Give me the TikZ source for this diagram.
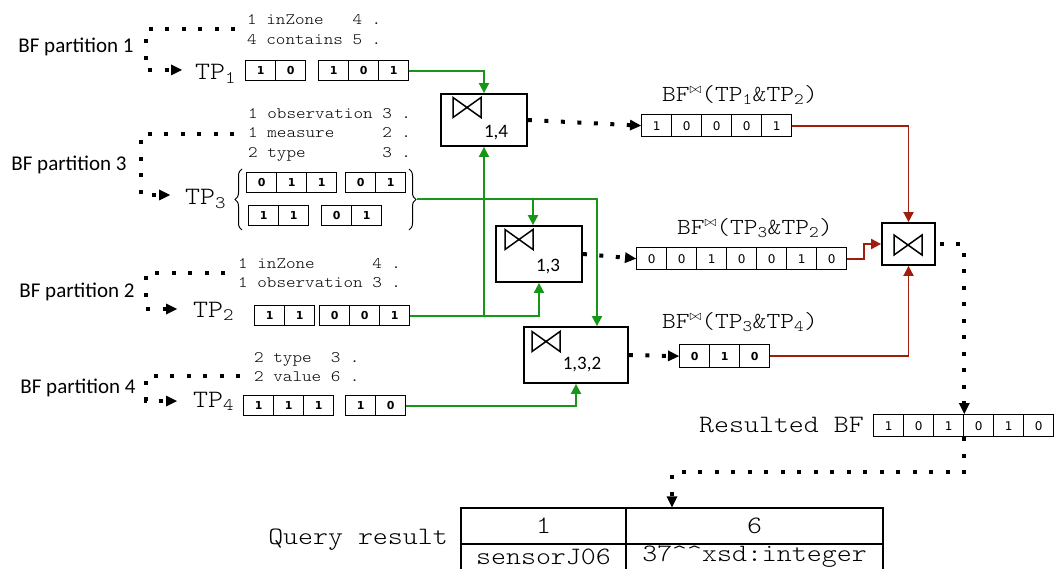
\documentclass[tikz,border=0pt]{standalone}
\usepackage{fontspec}
\setmainfont{Carlito}
\newfontfamily\monofont[FakeStretch=1.14]{Latin Modern Mono Light}
\newfontfamily\cellfont{DejaVu Sans}
\usetikzlibrary{arrows.meta,decorations.pathreplacing}

\definecolor{linkgreen}{RGB}{24,150,24}
\definecolor{linkred}{RGB}{160,28,12}

\newcommand{\bigmono}{\monofont\fontsize{25}{29}\selectfont}

% one group of bit cells, left/top corner at (#2,#3)
\newcommand{\bitgroup}[5]{%
  \foreach \b [count=\i] in {#5}
    \node[#4, anchor=north west] (#1-\i) at ({#2+30*(\i-1)},#3) {\b};
}
% join symbol
\newcommand{\bowsym}[2]{%
  \draw[line width=1.5pt, line join=miter] (#1-14,#2-10) -- (#1+14,#2+10) -- (#1+14,#2-10) -- (#1-14,#2+10) -- cycle;
}

\tikzset{
  part/.style={font=\fontsize{21}{25}\selectfont, inner sep=0pt},
  triple/.style={font=\monofont\fontsize{16}{19.5}\selectfont, align=left, anchor=west, inner sep=0pt},
  tplab/.style={font=\bigmono, anchor=base west, inner sep=0pt},
  bflab/.style={font=\monofont\fontsize{23}{26}\selectfont, inner sep=0pt},
  cell/.style={draw, line width=1.3pt, minimum width=30pt, minimum height=20pt, inner sep=0pt,
    font=\cellfont\bfseries\fontsize{11}{11}\selectfont},
  rcell/.style={cell, minimum height=22pt, font=\cellfont\fontsize{12}{12}\selectfont},
  joinbox/.style={draw, line width=1.8pt, inner sep=0pt, fill=white},
  joinlab/.style={font=\fontsize{19}{22}\selectfont, inner sep=0pt},
  tcell/.style={draw, line width=1.4pt, inner sep=0pt, font=\bigmono},
  glink/.style={draw=linkgreen, line width=1.9pt, -{Triangle[length=10pt,width=10pt]}},
  rlink/.style={draw=linkred, line width=1.9pt, -{Triangle[length=10pt,width=10pt]}},
  dots/.style={line width=4pt, dash pattern=on 4pt off 12.5pt,
    -{Triangle[length=11pt,width=11pt,line width=0pt]}},
  brc/.style={decorate, decoration={brace, amplitude=7pt}, line width=1pt}
}

\begin{document}
\begin{tikzpicture}[x=1pt,y=-1pt]
\useasboundingbox (0,0) rectangle (1054,569);

% partitions and their triples
\node[part] (p1) at (76,47) {BF partition 1};
\node[part] (p3) at (69,165) {BF partition 3};
\node[part] (p2) at (77,292) {BF partition 2};
\node[part] (p4) at (78,388) {BF partition 4};

\node[triple] (t1) at (247,29.5) {1 inZone~~~4 .\\4 contains 5 .};
\node[triple] (t3) at (248,134.5) {1 observation 3 .\\1 measure~~~~~2 .\\2 type~~~~~~~~3 .};
\node[triple] (t2) at (238,273) {1 inZone~~~~~~4 .\\1 observation 3 .};
\node[triple] (t4) at (254,367) {2 type~~3 .\\2 value 6 .};

\node[tplab] (tp1) at (195,80) {TP\textsubscript{1}};
\node[tplab] (tp3) at (185,205) {TP\textsubscript{3}};
\node[tplab] (tp2) at (193,317) {TP\textsubscript{2}};
\node[tplab] (tp4) at (193,407) {TP\textsubscript{4}};

% bit vectors of the triple patterns
\bitgroup{b1a}{245}{60}{cell}{1,0}
\bitgroup{b1b}{318}{60}{cell}{1,0,1}
\bitgroup{b3a}{246}{172}{cell}{0,1,1}
\bitgroup{b3b}{345}{172}{cell}{0,1}
\bitgroup{b3c}{248}{205}{cell}{1,1}
\bitgroup{b3d}{321}{205}{cell}{0,1}
\bitgroup{b2a}{254}{305}{cell}{1,1}
\bitgroup{b2b}{319}{305}{cell}{0,0,1}
\bitgroup{b4a}{243}{395}{cell}{1,1,1}
\bitgroup{b4b}{345}{395}{cell}{1,0}

\draw[brc] (242,230) -- (242,169);
\draw[brc] (409,169) -- (409,230);
\coordinate (tp3r) at (417,199);

% joins
\node[joinbox, minimum width=86pt, minimum height=52pt] (j14) at (484,120) {};
\node[joinbox, minimum width=86pt, minimum height=56pt] (j13) at (539,254) {};
\node[joinbox, minimum width=104pt, minimum height=56pt] (j132) at (576,355) {};
\node[joinbox, minimum width=53pt, minimum height=42pt] (jf) at (908.5,244) {};
\bowsym{467}{107.5}
\bowsym{519}{239.5}
\bowsym{546}{341.5}
\bowsym{908}{245}
\node[joinlab] (l14) at (496,133) {1,4};
\node[joinlab] (l13) at (548,267) {1,3};
\node[joinlab] (l132) at (582,365) {1,3,2};
\coordinate (j13in) at ([xshift=-6pt]j13.north);
\coordinate (j132in) at ([xshift=21pt]j132.north);

% join results
\node[bflab] (h12) at (740,95) {BF\raisebox{8pt}{\fontsize{14}{14}\selectfont$\bowtie$}(TP\textsubscript{1}\&TP\textsubscript{2})};
\node[bflab] (h32) at (755,228) {BF\raisebox{8pt}{\fontsize{14}{14}\selectfont$\bowtie$}(TP\textsubscript{3}\&TP\textsubscript{2})};
\node[bflab] (h34) at (740,322) {BF\raisebox{8pt}{\fontsize{14}{14}\selectfont$\bowtie$}(TP\textsubscript{3}\&TP\textsubscript{4})};
\bitgroup{r12}{641}{114}{rcell}{1,0,0,0,1}
\bitgroup{r32}{636}{247}{rcell}{0,0,1,0,0,1,0}
\bitgroup{r34}{679}{344}{cell, minimum height=23pt}{0,1,0}

\node[font=\bigmono, anchor=east, inner sep=0pt] (reslbl) at (864,425) {Resulted BF};
\bitgroup{res}{873}{414}{rcell}{1,0,1,0,1,0}

% query result table
\node[font=\bigmono, anchor=east, inner sep=0pt] (qlbl) at (448,540) {Query result};
\node[tcell, minimum width=165pt, minimum height=36pt] (q11) at (543.5,526) {1};
\node[tcell, minimum width=257pt, minimum height=36pt] (q12) at (754.5,526) {6};
\node[tcell, minimum width=165pt, minimum height=26pt] (q21) at (543.5,557) {sensorJ06};
\node[tcell, minimum width=257pt, minimum height=26pt] (q22) at (754.5,557) {37\textasciicircum\textasciicircum xsd:integer};
\coordinate (turn) at (672,472);

% dotted flows
\draw[dots] ([xshift=-12pt]t1.west) -| ([xshift=12pt]p1.east) |- ([xshift=-13pt,yshift=10pt]tp1.base west);
\draw[dots] ([xshift=-14pt]t3.west) -| ([xshift=14pt]p3.east) |- ([xshift=-15pt,yshift=10pt]tp3.base west);
\draw[dots] ([xshift=-13pt]t2.west) -| ([xshift=11pt]p2.east) |- ([xshift=-16pt,yshift=8pt]tp2.base west);
\draw[dots] ([xshift=-14pt,yshift=-9pt]t4.west) -| ([xshift=10pt]p4.east) |- ([xshift=-16pt,yshift=6pt]tp4.base west);
\draw[dots] (j14.east) -- (r12-1.west);
\draw[dots] (j13.east) -- (r32-1.west);
\draw[dots] (j132.east) -- (r34-1.west);
\draw[dots] ([xshift=4pt]jf.east) -| (res-3.north east);
\draw[dots] (res-3.south east) |- (turn) -- (turn |- q12.north);

% green inputs
\draw[glink] (b1b-3.east) -| (j14.north);
\draw[glink] (tp3r) -| (j132in);
\draw[glink] (j13in |- tp3r) -- (j13in);
\draw[glink] (b2b-3.east) -| (j13.south);
\draw[glink] (j14.south |- b2b-3.east) -- (j14.south);
\draw[glink] (b4b-2.east) -| (j132.south);

% red inputs of the last join
\draw[rlink] (r12-5.east) -| (jf.north);
\draw[rlink] (r32-7.east) -- ++(17,0) |- (jf.west);
\draw[rlink] (r34-3.east) -| (jf.south);
\end{tikzpicture}
\end{document}
